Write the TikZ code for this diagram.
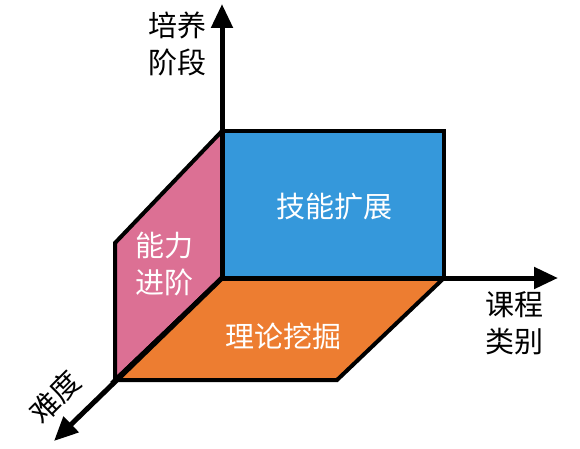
\documentclass[tikz,border=0pt]{standalone}
\usepackage{fontspec}
\newfontfamily\cjk{Noto Sans CJK SC}
\usetikzlibrary{arrows.meta, positioning}

\definecolor{pinkface}{RGB}{220,112,148}
\definecolor{blueface}{RGB}{53,152,219}
\definecolor{orangeface}{RGB}{237,125,49}

\tikzset{
    axis/.style={line width=5pt, -{Triangle[length=24pt,width=21pt]}},
    face/.style={draw=black, line width=4pt, line join=miter},
    facelabel/.style={text=white, font=\cjk\fontsize{29}{37}\selectfont, align=center},
    axislabel/.style={text=black, font=\cjk\fontsize{29}{37}\selectfont, align=center}
}

\begin{document}
\begin{tikzpicture}[x=1pt, y=-1pt]
    \useasboundingbox (0,0) rectangle (580,449);

    % Define the corners of the three faces
    \coordinate (O) at (222,278);
    \coordinate (T) at (222,131);
    \coordinate (R) at (444,131);
    \coordinate (S) at (444,278);
    \coordinate (P) at (115,243);
    \coordinate (Q) at (115,380);
    \coordinate (U) at (337,380);

    % Axis ends
    \coordinate (Yend) at (222,4);
    \coordinate (Xend) at (558,278);
    \coordinate (Zend) at (54,441);

    % Draw the faces
    \filldraw[face, fill=pinkface] (O) -- (T) -- (P) -- (Q) -- cycle;
    \filldraw[face, fill=orangeface] (O) -- (S) -- (U) -- (Q) -- cycle;
    \filldraw[face, fill=blueface] (O) -- (T) -- (R) -- (S) -- cycle;

    % Draw the axes
    \draw[axis] (O) -- (Yend);
    \draw[axis] (O) -- (Xend);
    \draw[axis] (O) -- (Zend);

    % Place the labels
    \node[facelabel] (skill) at (334,207) {技能扩展};
    \node[facelabel] (ability) at (164,264) {能力\\进阶};
    \node[facelabel] (theory) at (283,336) {理论挖掘};
    \node[axislabel] (stage) at (177,44) {培养\\阶段};
    \node[axislabel] (course) at (514,323) {课程\\类别};
    \node[axislabel, rotate=45] (level) at (55,397) {难度};

\end{tikzpicture}
\end{document}
